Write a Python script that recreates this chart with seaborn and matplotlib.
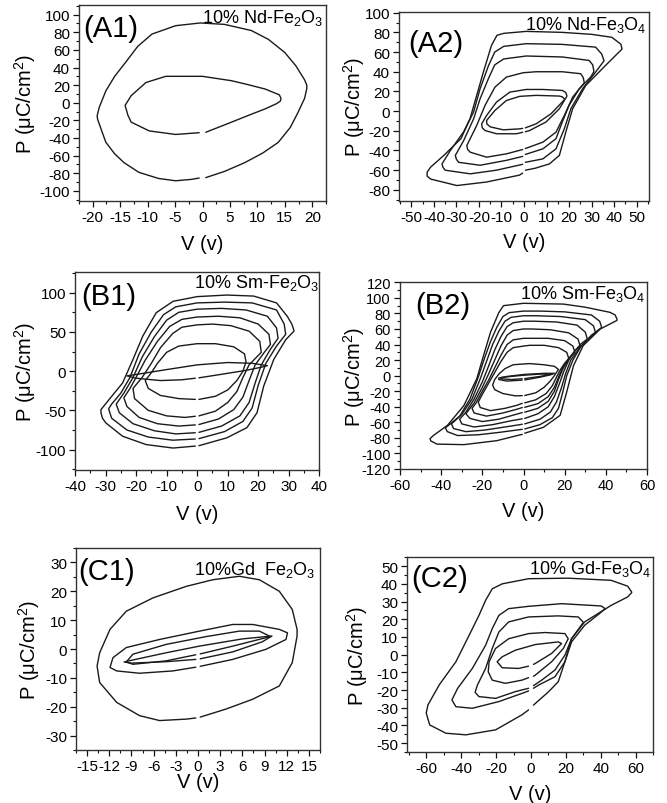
import numpy as np
import matplotlib
matplotlib.use("Agg")
import matplotlib.pyplot as plt
from matplotlib.ticker import MultipleLocator
import seaborn as sns

# ---------------- data: hysteresis loops (V, P) ----------------
# each loop: upper branch (right tip -> left tip), lower branch (left tip -> right tip)
a1_l1_up = [(19, 20), (18.6, 26), (17, 42), (15, 57), (12, 72), (8.9, 82), (4, 89), (-0.4, 90.6),
            (-4.9, 87.5), (-9.2, 78), (-11.8, 64), (-14, 46), (-16, 30), (-17.6, 13.6), (-18.8, -5), (-19.2, -15)]
a1_l1_lo = [(-19.1, -19), (-18.3, -33), (-17.6, -45), (-16, -58), (-14.3, -68), (-11.6, -79), (-8, -86),
            (-4.9, -88.6), (-2, -87), (-0.6, -85.5), (0.6, -85), (4, -78), (7.7, -68), (11, -57), (13.8, -45),
            (16, -28), (17.4, -11), (18.6, 5), (19, 16)]
a1_l2_up = [(14.3, 5), (14, 9), (11.4, 15.6), (8, 21), (5.3, 25), (0, 30), (-6.7, 30), (-10.3, 23), (-13, 8), (-14.1, -3)]
a1_l2_lo = [(-13.6, -14), (-13, -22), (-9.7, -32), (-4.9, -36), (-0.6, -34), (0.6, -33.5), (5.3, -22), (8.5, -14),
            (11.4, -7), (13.5, -1), (14.2, 2)]

a2_l1_up = [(43.5, 63.4), (43, 68), (39, 75), (30, 78), (17, 80), (1, 81), (-9, 79), (-12, 77), (-14.4, 67), (-18, 40),
            (-21, 16), (-24, -8), (-28, -28), (-35.6, -45), (-41.5, -57), (-43, -62)]
a2_l1_lo = [(-43, -66), (-41.5, -69), (-29.8, -75.6), (-16.6, -72), (-2, -65), (-0.6, -63), (0.6, -60), (5, -58),
            (11.3, -53.6), (15.7, -45), (18.6, -21), (21.6, 2.4), (27.4, 26), (36.2, 46.4), (43.5, 63)]
a2_l2_up = [(35.5, 51.5), (34.5, 58), (31.8, 65), (17, 67.8), (1, 68.5), (-9, 65.8), (-13, 60), (-15.8, 46), (-19.5, 22.7),
            (-22.4, -1), (-26.8, -21), (-32.7, -40), (-36.4, -53.6)]
a2_l2_lo = [(-36, -57), (-35, -60), (-23.9, -63.7), (-12.2, -60), (-1.5, -54.5), (-0.6, -54), (0.6, -52), (8.4, -48.5),
            (14.2, -38.3), (17.9, -18), (20.8, 2.4), (26, 22.7), (31.8, 39.7), (35.5, 51)]
a2_l3_up = [(31, 41), (30.5, 47), (28.9, 51.5), (17, 55), (1, 56), (-9, 53), (-13, 47), (-15.8, 33), (-19.5, 12.5),
            (-22.4, -8), (-26.8, -30), (-30.5, -45)]
a2_l3_lo = [(-30, -49), (-29, -52), (-19.5, -55), (-7.8, -50), (-0.6, -46), (0.6, -44), (8.4, -38.3), (14.2, -28),
            (17, -11), (20, 5.8), (24.5, 22.7), (29.6, 34.6), (31, 40)]
a2_l4_up = [(26.7, 29.5), (26.3, 34), (25.2, 38), (17, 40), (5.4, 40), (-0.4, 39), (-7.8, 34.6), (-12.9, 24.4),
            (-17.3, 5.8), (-21, -14.6), (-25.4, -35)]
a2_l4_lo = [(-25, -39), (-23.9, -41.7), (-16.6, -46.8), (-7.8, -43.4), (-0.6, -39), (0.6, -38), (8.4, -31.5),
            (14.2, -21.4), (17.9, -4.4), (21.6, 14.2), (26.7, 28.5)]
a2_l5_up = [(19, 16), (18.5, 19), (17, 21), (8.4, 22), (1, 22), (-6.3, 19.3), (-12.2, 9.2), (-16.6, -4.4), (-18.8, -13)]
a2_l5_lo = [(-18.5, -17), (-17.3, -19.7), (-12.2, -23), (-3.4, -23), (-0.6, -21.5), (0.6, -21), (2.5, -19.7),
            (9.8, -11), (15.7, 2.4), (19, 15)]
a2_l6_up = [(17.9, 12.5), (17, 14.5), (15.7, 15.3), (5.4, 16), (-1.9, 15), (-7.8, 10.8), (-12.9, 0.7), (-16.6, -9.5)]
a2_l6_lo = [(-16.5, -13), (-15, -16), (-9.2, -19), (-1.9, -18), (-0.6, -17.5), (0.6, -17), (5.4, -12.9), (12, -2.7),
            (17.9, 11.5)]

b1_l1_up = [(31.7, 52), (31, 60), (29.5, 70), (26, 87), (18.5, 95.7), (9.7, 97), (0, 95), (-7.9, 89), (-13.4, 74.5),
            (-17.8, 44.7), (-21, 15), (-24.4, -15), (-28.8, -36), (-31.5, -49), (-31.5, -53)]
b1_l1_lo = [(-31, -60), (-29.9, -66), (-24.4, -83), (-16.7, -93.6), (-7.9, -98), (-0.6, -95.5), (0.6, -95), (9.7, -85),
            (16.3, -72), (19.6, -53), (21.8, -19), (25.1, 15), (29, 40), (31.7, 51)]
b1_l2_up = [(29, 47), (28.5, 60), (26, 78), (18, 87), (9, 88), (0, 87), (-7, 82), (-11, 72), (-15, 50), (-19, 22),
            (-22, -8), (-25, -28), (-28, -42), (-29, -48)]
b1_l2_lo = [(-28, -60), (-23, -75), (-16, -84), (-8, -88), (-0.6, -86.5), (0.6, -86), (9, -77), (15, -64), (18, -47),
            (20, -18), (22.5, 10), (26, 32), (29, 47)]
b1_l3_up = [(26.5, 42), (26, 55), (23, 70), (16, 78), (8, 80), (0, 79), (-6, 75), (-10, 65), (-14, 44), (-18, 18),
            (-21, -8), (-24, -28), (-26.5, -42)]
b1_l3_lo = [(-25.5, -53), (-21, -67), (-14, -76), (-7, -80), (-0.6, -78.5), (0.6, -78), (8, -70), (14, -57), (17, -40),
            (19, -15), (21, 8), (24, 28), (26.5, 42)]
b1_l4_up = [(24, 34), (23.5, 47), (20, 60), (14, 68), (7, 70), (0, 69), (-5, 66), (-9, 57), (-13, 38), (-17, 14),
            (-20, -8), (-22, -22), (-24, -34)]
b1_l4_lo = [(-23, -45), (-19, -59), (-13, -67), (-6, -70), (-0.6, -68.5), (0.6, -68), (7, -61), (12, -49), (15, -33),
            (17, -12), (19, 8), (22, 24), (24, 34)]
b1_l5_up = [(21, 24), (20.5, 38), (17, 51), (11, 58), (5, 60), (0, 59), (-5, 56), (-8, 48), (-12, 30), (-15, 10),
            (-18, -8), (-21, -22)]
b1_l5_lo = [(-20.5, -35), (-16, -50), (-10, -57), (-4, -59), (-0.6, -57.5), (0.6, -57), (6, -51), (10, -40), (13, -26),
            (15, -8), (17, 8), (21, 24)]
b1_l6_up = [(16, 12), (15.5, 22), (12, 31), (6, 35), (0, 35), (-6, 32), (-10, 24), (-13, 10), (-15, -2), (-17, -12)]
b1_l6_lo = [(-16, -22), (-12, -31), (-6, -35), (-0.6, -36), (0.6, -36), (6, -32), (10, -24), (13, -12), (15, 0), (16, 12)]
b1_l7_up = [(23, 7), (18, 10), (10, 11), (0, 8), (-10, 2), (-18, -3), (-23, -6)]
b1_l7_lo = [(-20, -9), (-12, -12), (-5, -11), (-0.6, -9), (0.6, -8.5), (8, -4), (16, 1), (21, 5), (23, 7)]

b2_l1_up = [(45.4, 73), (44.5, 78), (42, 81.4), (30, 88), (19.4, 92), (0, 93), (-9.7, 90), (-12, 81), (-16, 56),
            (-19.4, 26), (-22.7, -4), (-29, -38.6), (-37, -64), (-43.8, -77), (-45.4, -81)]
b2_l1_lo = [(-45, -84), (-42, -88), (-29, -88.7), (-13, -83.6), (-1.5, -76), (-0.6, -75.5), (0.6, -74), (9.7, -66.4),
            (17.8, -51), (21, -21), (24.3, 12.9), (29, 38.6), (37.3, 60), (45.4, 71)]
b2_l2_up = [(38, 62), (37, 70), (33, 78), (20, 82), (8, 83), (0, 83), (-7, 81), (-10, 76), (-13, 62), (-16, 44),
            (-19, 22), (-22, -2), (-26, -30), (-31, -52), (-36, -63), (-38, -67)]
b2_l2_lo = [(-37, -72), (-32, -77), (-22, -76), (-12, -73), (-0.6, -69), (0.6, -68.5), (8, -63), (14, -54), (17, -42),
            (19, -22), (21, 0), (24, 20), (28, 38), (33, 52), (38, 62)]
b2_l3_up = [(35, 55), (34, 64), (30, 72), (18, 76), (6, 77), (0, 77), (-6, 75), (-9, 70), (-12, 57), (-15, 40),
            (-18, 18), (-21, -4), (-25, -30), (-30, -50), (-35, -62)]
b2_l3_lo = [(-34, -68), (-28, -72), (-19, -70), (-9, -66), (-0.6, -62.5), (0.6, -62), (8, -56), (13, -47), (16, -34),
            (18.5, -15), (20.5, 3), (23, 20), (27, 35), (31, 46), (35, 55)]
b2_l4_up = [(31, 47), (30, 56), (26, 65), (16, 69), (5, 70), (0, 70), (-5, 68), (-8, 63), (-11, 50), (-14, 33),
            (-17, 12), (-20, -8), (-24, -30), (-28, -47), (-31, -56)]
b2_l4_lo = [(-30, -62), (-24, -66), (-15, -63), (-6, -58), (-0.6, -55.5), (0.6, -55), (7, -49), (12, -40), (15, -27),
            (17.5, -10), (19.5, 5), (22, 20), (25, 32), (28, 41), (31, 47)]
b2_l5_up = [(27.5, 38), (26.5, 47), (22, 55), (13, 59), (4, 60), (0, 60), (-5, 58), (-8, 52), (-11, 38), (-14, 20),
            (-17, 2), (-20, -15), (-24, -35), (-28, -49)]
b2_l5_lo = [(-26, -55), (-20, -59), (-12, -56), (-4, -50), (-0.6, -47.5), (0.6, -47), (7, -42), (12, -33), (15, -20),
            (17, -5), (19, 8), (22, 22), (25, 32), (27.5, 38)]
b2_l6_up = [(25, 30), (24, 38), (20, 45), (12, 48), (4, 48), (0, 48), (-5, 46), (-8, 40), (-11, 26), (-14, 10),
            (-17, -6), (-20, -20), (-23, -35), (-25, -42)]
b2_l6_lo = [(-24, -48), (-18, -52), (-10, -48), (-3, -43), (-0.6, -41), (0.6, -40.7), (7, -36), (12, -27), (15, -15),
            (17, -2), (19, 10), (22, 22), (25, 30)]
b2_l7_up = [(22, 22), (21, 30), (17, 36), (10, 39), (3, 39), (0, 38), (-5, 36), (-8, 30), (-11, 18), (-14, 4),
            (-17, -10), (-20, -24), (-22, -34)]
b2_l7_lo = [(-21, -41), (-16, -45), (-9, -42), (-3, -38), (-0.6, -35.5), (0.6, -35), (6, -31), (11, -23), (14, -13),
            (16, -2), (18, 8), (20, 16), (22, 22)]
b2_l8_up = [(17, 8), (15, 12), (10, 14), (3, 15.5), (0, 15), (-5, 14), (-9, 9), (-12, 2), (-14, -5), (-15, -12)]
b2_l8_lo = [(-14, -18), (-10, -23), (-4, -26), (-0.6, -25.7), (0.6, -25.5), (6, -22), (10, -15), (13, -7), (15, 0), (17, 8)]
b2_l9_up = [(15, 3), (10, 3), (0, 1.5), (-8, -1), (-12, -3)]
b2_l9_lo = [(-12, -5), (-8, -7), (-0.6, -5.7), (0.6, -5.5), (8, -2), (13, 1), (15, 3)]
b2_l10_up = [(14, 2), (8, 2), (0, 0.5), (-6, -1), (-11, -2.5)]
b2_l10_lo = [(-11, -4), (-6, -5), (-0.6, -4), (0.6, -3.8), (8, -1), (14, 2)]

c1_l1_up = [(13.4, 6.8), (12.75, 13.7), (11, 20), (8.3, 24), (5.6, 25.2), (2, 24), (-1.6, 21.7), (-6.1, 17.7),
            (-9.7, 13.1), (-11.9, 6.8), (-13.3, -1.3), (-13.65, -5.9)]
c1_l1_lo = [(-13.3, -11.6), (-11, -18.5), (-7.9, -23.1), (-5.2, -24.8), (-1.6, -24.3), (-0.3, -23.9), (0.3, -23.6),
            (3.8, -20.8), (7.4, -17.4), (11, -12.8), (12.75, -4.7), (13.4, 4.5)]
c1_l2_up = [(12.1, 5.6), (11, 6.8), (7.4, 8.5), (4.7, 8.5), (0.2, 6.2), (-5.2, 3.3), (-9.7, 0.5), (-11.5, -3), (-11.9, -6.4)]
c1_l2_lo = [(-11, -7.6), (-7.9, -8.4), (-3.4, -7.6), (-0.3, -6.3), (0.3, -6), (4.7, -3.6), (9.2, -0.1), (11.9, 3.3), (12.1, 5.6)]
c1_l3_up = [(9.8, 4.3), (8.3, 6.2), (5.6, 6.2), (1.1, 4.3), (-4.3, 1.6), (-8.8, -1.8), (-9.7, -4.5)]
c1_l3_lo = [(-8.8, -5.3), (-4.3, -4.1), (-0.3, -2), (0.3, -1.7), (4.7, 1), (8.7, 3.6), (9.8, 4.3)]
c1_l4_up = [(10, 4.5), (6, 3.5), (0.2, 1), (-4.3, -1.3), (-8.8, -3.8), (-10, -4.5)]
c1_l4_lo = [(-9, -4.9), (-4.3, -4.4), (-0.3, -3.6), (0.3, -3.4), (4.7, -1), (8.7, 2.5), (10, 4.5)]

c2_l1_up = [(57.6, 35.4), (55.3, 38.7), (45.8, 42), (21.3, 43.2), (-1.4, 42.9), (-16.5, 40), (-22.2, 37.2), (-26, 30.7),
            (-29.8, 22.2), (-35.4, 11), (-43, -4), (-52.5, -17), (-59, -28.4), (-60, -33)]
c2_l1_lo = [(-58, -39.7), (-48.7, -44.4), (-37.3, -45.3), (-20.3, -42.5), (-5.2, -34), (-1.4, -31.2), (1.4, -28.5),
            (10, -21), (15.6, -15.3), (19.4, -4), (23.2, 9), (30.7, 18.5), (45.8, 27.8), (55.3, 32.6), (57.6, 35)]
c2_l2_up = [(42.4, 26), (40.2, 27.5), (17.5, 28.8), (-1.4, 27.3), (-12.8, 26), (-18.4, 22.2), (-22.2, 14.7), (-26, 5.3),
            (-33.6, -7.8), (-42, -19), (-45.3, -25.6)]
c2_l2_lo = [(-43, -29.4), (-33.6, -30.3), (-18.4, -26.5), (-5.2, -21.9), (-1.4, -20.5), (1.4, -19), (4.3, -17.2),
            (13.7, -12.5), (19.4, -4), (23.2, 7.2), (30.7, 16.6), (39.2, 23.2), (42.4, 26)]
c2_l3_up = [(29.8, 18.5), (27, 21.3), (15.6, 21.9), (-1.4, 21.3), (-12.8, 18.5), (-18.4, 12.8), (-22.2, 3.5), (-26, -7.8),
            (-30.7, -17.2), (-32, -21.3)]
c2_l3_lo = [(-29.8, -23.7), (-20.3, -24.7), (-9, -20.9), (-1.4, -19), (1.4, -17.5), (6.1, -14.4), (13.7, -8.7),
            (19.4, -0.3), (23.2, 9), (29.8, 18)]
c2_l4_up = [(21.3, 9), (19.4, 11.9), (8, 12.5), (-1.4, 11.9), (-12.8, 9), (-20.3, 3.5), (-24, -4), (-24.5, -9.7)]
c2_l4_lo = [(-22.2, -14.4), (-14.7, -16.2), (-5.2, -14.4), (-1.4, -13), (1.4, -12.2), (2.4, -11.6), (11.8, -4),
            (18.5, 3.5), (21.3, 9)]
c2_l5_up = [(17.5, 6.3), (15.6, 7.2), (2.4, 5.7), (-9, 2.5), (-16.5, -1.2), (-19.4, -4)]
c2_l5_lo = [(-16.5, -7.4), (-7.1, -7.8), (-1.4, -6.5), (1.4, -5.5), (2.4, -5), (11.8, 0.7), (17.5, 6.3)]

# axis ranges / ticks
a1_xlim, a1_ylim = (-22.5, 22.5), (-111, 111)
a2_xlim, a2_ylim = (-55.5, 55.5), (-91, 101)
b1_xlim, b1_ylim = (-40, 40), (-126, 126)
b2_xlim, b2_ylim = (-60, 60), (-120, 120)
c1_xlim, c1_ylim = (-16.5, 16.5), (-35, 35)
c2_xlim, c2_ylim = (-71, 70), (-55, 55)

panel_labels = ["(A1)", "(A2)", "(B1)", "(B2)", "(C1)", "(C2)"]
panel_titles = ["10% Nd-Fe$_2$O$_3$", "10% Nd-Fe$_3$O$_4$", "10% Sm-Fe$_2$O$_3$",
                "10% Sm-Fe$_3$O$_4$", "10%Gd  Fe$_2$O$_3$", "10% Gd-Fe$_3$O$_4$"]
x_label = "V (v)"
y_label = "P (\u03bcC/cm$^2$)"

# ---------------- style ----------------
sns.set_theme(style="ticks")
plt.rcParams["font.family"] = ["Liberation Sans", "DejaVu Sans"]
plt.rcParams["mathtext.fontset"] = "custom"
plt.rcParams["mathtext.rm"] = "Liberation Sans"
plt.rcParams["mathtext.it"] = "Liberation Sans:italic"
plt.rcParams["axes.unicode_minus"] = False
plt.rcParams["axes.linewidth"] = 1.0
plt.rcParams["axes.edgecolor"] = "#333333"

W, H = 667, 804
fig = plt.figure(figsize=(W / 100, H / 100), dpi=100)

# pixel boxes (left, right, top, bottom)
boxes = [(79, 326, 6, 201.5), (399, 649, 12.7, 201.7),
         (75, 319.3, 273.3, 471), (400, 647, 283.3, 470),
         (76, 320, 549, 751), (407, 653.3, 558.3, 753)]

panels = [
    dict(loops=[(a1_l1_up, a1_l1_lo), (a1_l2_up, a1_l2_lo)], xlim=a1_xlim, ylim=a1_ylim,
         xmaj=5, xmin=2.5, ymaj=20, ymin=10, tfs=11,
         lab=(0.016, 0.955), tit=(0.988, 0.99), ylc=-0.166, xlc=-0.171),
    dict(loops=[(a2_l1_up, a2_l1_lo), (a2_l2_up, a2_l2_lo), (a2_l3_up, a2_l3_lo), (a2_l4_up, a2_l4_lo),
                (a2_l5_up, a2_l5_lo), (a2_l6_up, a2_l6_lo)], xlim=a2_xlim, ylim=a2_ylim,
         xmaj=10, xmin=5, ymaj=20, ymin=10, tfs=11,
         lab=(0.035, 0.908), tit=(0.99, 0.99), ylc=-0.128, xlc=-0.166),
    dict(loops=[(b1_l1_up, b1_l1_lo), (b1_l2_up, b1_l2_lo), (b1_l3_up, b1_l3_lo), (b1_l4_up, b1_l4_lo),
                (b1_l5_up, b1_l5_lo), (b1_l6_up, b1_l6_lo), (b1_l7_up, b1_l7_lo)], xlim=b1_xlim, ylim=b1_ylim,
         xmaj=10, xmin=5, ymaj=50, ymin=25, tfs=11,
         lab=(0.027, 0.951), tit=(1.0, 1.0), ylc=-0.151, xlc=-0.172),
    dict(loops=[(b2_l1_up, b2_l1_lo), (b2_l2_up, b2_l2_lo), (b2_l3_up, b2_l3_lo), (b2_l4_up, b2_l4_lo),
                (b2_l5_up, b2_l5_lo), (b2_l6_up, b2_l6_lo), (b2_l7_up, b2_l7_lo), (b2_l8_up, b2_l8_lo),
                (b2_l9_up, b2_l9_lo), (b2_l10_up, b2_l10_lo)], xlim=b2_xlim, ylim=b2_ylim,
         xmaj=20, xmin=10, ymaj=20, ymin=10, tfs=10.5,
         lab=(0.061, 0.955), tit=(0.992, 0.996), ylc=-0.134, xlc=-0.171),
    dict(loops=[(c1_l1_up, c1_l1_lo), (c1_l2_up, c1_l2_lo), (c1_l3_up, c1_l3_lo), (c1_l4_up, c1_l4_lo)],
         xlim=c1_xlim, ylim=c1_ylim, xmaj=3, xmin=1.5, ymaj=10, ymin=5, tfs=11,
         lab=(0.008, 0.955), tit=(0.98, 0.945), ylc=-0.139, xlc=-0.109),
    dict(loops=[(c2_l1_up, c2_l1_lo), (c2_l2_up, c2_l2_lo), (c2_l3_up, c2_l3_lo), (c2_l4_up, c2_l4_lo),
                (c2_l5_up, c2_l5_lo)], xlim=c2_xlim, ylim=c2_ylim,
         xmaj=20, xmin=10, ymaj=10, ymin=5, tfs=11,
         lab=(0.019, 0.966), tit=(0.993, 0.996), ylc=-0.150, xlc=-0.162),
]

line_color = "#1a1a1a"
text_color = "#000000"

for i, (p, (L, R, T, B)) in enumerate(zip(panels, boxes)):
    ax = fig.add_axes([L / W, 1 - B / H, (R - L) / W, (B - T) / H])
    for up, lo in p["loops"]:
        up = np.asarray(up, float)
        lo = np.asarray(lo, float)
        k = int(np.argmax(lo[:, 0] > 0))
        path = np.vstack([lo[k:], up, lo[:k]])
        sns.lineplot(x=path[:, 0], y=path[:, 1], sort=False, estimator=None, ax=ax,
                     color=line_color, linewidth=1.0)
    ax.set_xlim(*p["xlim"])
    ax.set_ylim(*p["ylim"])
    ax.xaxis.set_major_locator(MultipleLocator(p["xmaj"]))
    ax.xaxis.set_minor_locator(MultipleLocator(p["xmin"]))
    ax.yaxis.set_major_locator(MultipleLocator(p["ymaj"]))
    ax.yaxis.set_minor_locator(MultipleLocator(p["ymin"]))
    ax.tick_params(which="major", direction="out", length=4, width=0.9, labelsize=p["tfs"],
                   pad=2.5, colors="#111111", labelcolor=text_color)
    ax.tick_params(which="minor", direction="out", length=2.5, width=0.8, colors="#111111")
    for s in ax.spines.values():
        s.set_visible(True)
        s.set_color("#333333")
    ax.set_xlabel(x_label, fontsize=14.5, color=text_color)
    ax.set_ylabel(y_label, fontsize=14.5, color=text_color)
    ax.yaxis.set_label_coords(p["ylc"], 0.5)
    ax.xaxis.set_label_coords(0.5, p["xlc"])
    ax.text(p["lab"][0], p["lab"][1], panel_labels[i], transform=ax.transAxes, fontsize=21,
            ha="left", va="top", color=text_color)
    ax.text(p["tit"][0], p["tit"][1], panel_titles[i], transform=ax.transAxes, fontsize=13,
            ha="right", va="top", color=text_color)

fig.savefig("out.png", dpi=100)
